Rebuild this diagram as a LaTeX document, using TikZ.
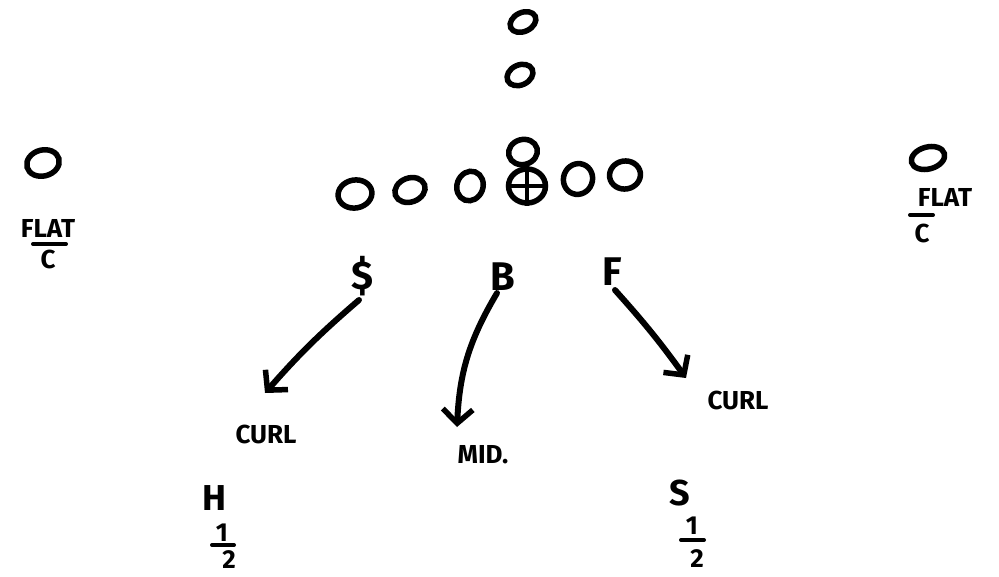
\documentclass[tikz,border=0pt]{standalone}
\usepackage{fontspec}
\setmainfont{Fira Sans}
\usetikzlibrary{shapes.geometric,arrows.meta}
\begin{document}
\begin{tikzpicture}[x=1pt,y=-1pt,
  man/.style={ellipse,draw,line width=5.5pt,inner sep=0pt},
  lbl/.style={font=\bfseries\fontsize{40}{40}\selectfont,inner sep=0pt},
  small/.style={font=\bfseries\fontsize{26}{26}\selectfont,inner sep=0pt},
  route/.style={line width=6pt,line cap=round,-{Straight Barb[length=14pt,width=30pt,line width=5.5pt]}},
  barline/.style={line width=4pt,line cap=round}]
\useasboundingbox (0,0) rectangle (999,576);
% backfield / top
\node[man,rotate=25,minimum width=27pt,minimum height=19pt] (t1) at (523,22) {};
\node[man,rotate=25,minimum width=27pt,minimum height=20pt] (t2) at (520,75) {};
\node[man,rotate=15,minimum width=29pt,minimum height=25pt] (t3) at (523,152) {};
% line
\node[man,rotate=10,minimum width=34pt,minimum height=28pt] (l1) at (355,194) {};
\node[man,rotate=20,minimum width=31pt,minimum height=24pt] (l2) at (410,190) {};
\node[man,rotate=70,minimum width=30pt,minimum height=26pt] (l3) at (470,186) {};
\node[man,minimum width=37pt,minimum height=34pt] (c) at (527,186) {};
\draw[line width=4pt] (c.north) -- (c.south) (c.west) -- (c.east);
\node[man,rotate=70,minimum width=31pt,minimum height=29pt] (l4) at (578,179) {};
\node[man,rotate=10,minimum width=31pt,minimum height=28pt] (l5) at (625,175) {};
% wide players
\node[man,rotate=15,minimum width=33pt,minimum height=26pt] (wl) at (43,163) {};
\node[man,rotate=15,minimum width=34pt,minimum height=22pt] (wr) at (928,158) {};
\node[small] (flatl) at (48,228) {FLAT};
\draw[barline] (33,244) -- (66,244);
\node[small] (cl) at (48,259) {C};
\node[small] (flatr) at (945,197) {FLAT};
\draw[barline] (910,215) -- (933,215);
\node[small] (cr) at (922,233) {C};
% linebackers
\node[lbl] (sam) at (362,276) {\$};
\node[lbl] (buck) at (503,277) {B};
\node[lbl] (f) at (612,272) {F};
% route labels
\node[small] (curll) at (266,434) {CURL};
\node[small] (mid) at (483,455) {MID.};
\node[small] (curlr) at (738,400) {CURL};
\coordinate (el) at (265,393);
\coordinate (em) at (457,427);
\coordinate (er) at (686,378);
\draw[route] (sam.south) ++(-3,4) to[bend right=4] (el);
\draw[route] (buck.south) ++(-6,2) to[bend right=14] (em);
\draw[route] (f.south) ++(3,4) to[bend left=3] (er);
% safeties
\node[lbl,font=\bfseries\fontsize{36}{36}\selectfont] (h) at (214,498) {H};
\node[small] (h1) at (222,533) {1};
\node[small] (h2) at (229,560) {2};
\draw[barline] (212,545) -- (234,545);
\node[lbl,font=\bfseries\fontsize{36}{36}\selectfont] (s) at (680,493) {S};
\node[small] (s1) at (692,526) {1};
\node[small] (s2) at (697,559) {2};
\draw[barline] (681,540) -- (704,540);
\end{tikzpicture}
\end{document}
